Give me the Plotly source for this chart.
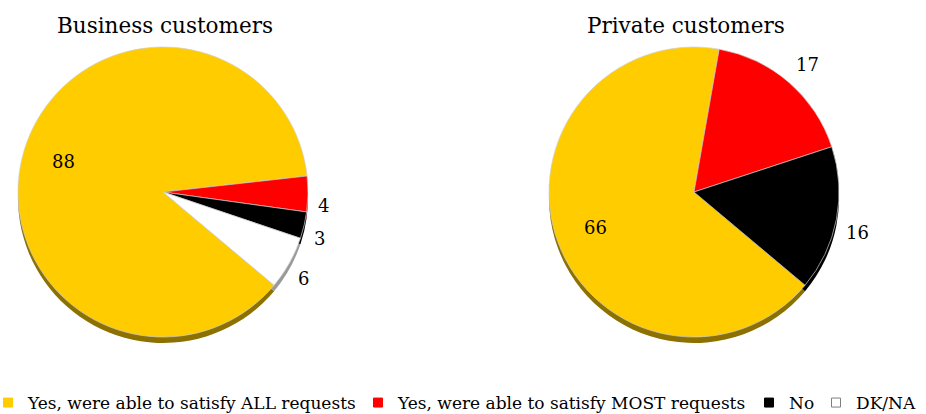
import math
import plotly.graph_objects as go

W, H = 926, 414

labels = ["Yes, were able to satisfy ALL requests",
          "Yes, were able to satisfy MOST requests",
          "No", "DK/NA"]
colors = ["#FFCC00", "#FF0000", "#000000", "#FFFFFF"]
shadow_colors = ["#8C7000", "#8B0000", "#000000", "#9A9A9A"]
legend_line_colors = ["#FFCC00", "#FF0000", "#000000", "#7F7F7F"]

business_values = [88, 4, 3, 6]
business_textpos = ["inside", "outside", "outside", "outside"]
private_values = [66, 17, 16]
private_textpos = ["inside", "outside", "outside"]

titles = ["Business customers", "Private customers"]

FONT = "DejaVu Serif"

# layout of the two pies (pixels)
pies = [
    dict(values=business_values, pos=business_textpos, title=titles[0],
         cx=163, cy=192, r=145, rot=130, title_x=165),
    dict(values=private_values, pos=private_textpos, title=titles[1],
         cx=694, cy=192, r=145, rot=130, title_x=686),
]
SHADOW = 6


def dom(cx, cy, r, dy=0):
    return dict(x=[(cx - r) / W, (cx + r) / W],
                y=[1 - (cy + dy + r) / H, 1 - (cy + dy - r) / H])


fig = go.Figure()

# 3-D base (shadow) of the pies
for p in pies:
    n = len(p["values"])
    fig.add_trace(go.Pie(
        labels=labels[:n], values=p["values"], sort=False,
        direction="clockwise", rotation=p["rot"],
        domain=dom(p["cx"], p["cy"], p["r"], dy=SHADOW),
        marker=dict(colors=shadow_colors[:n], line=dict(width=0)),
        textinfo="none", showlegend=False, hoverinfo="skip"))

# pies
for p in pies:
    n = len(p["values"])
    fig.add_trace(go.Pie(
        labels=labels[:n], values=p["values"], sort=False,
        direction="clockwise", rotation=p["rot"],
        domain=dom(p["cx"], p["cy"], p["r"]),
        marker=dict(colors=colors[:n], line=dict(color="#D0D0D0", width=0.7)),
        textinfo="none", showlegend=False))

    # data labels, placed along each slice's bisector
    total = sum(p["values"])
    start = p["rot"]
    for v, pos in zip(p["values"], p["pos"]):
        span = v / total * 360
        mid = math.radians(start + span / 2)
        start += span
        s, c = math.sin(mid), -math.cos(mid)
        if pos == "inside":
            rr = 0.72 * p["r"]
            xa, ya = "center", "middle"
        else:
            rr = p["r"] + 9
            xa = "left" if s >= 0 else "right"
            ya = "top" if c >= 0 else "bottom"
        fig.add_annotation(
            text=str(v), x=(p["cx"] + rr * s) / W, y=1 - (p["cy"] + rr * c) / H,
            xref="paper", yref="paper", xanchor=xa, yanchor=ya, showarrow=False,
            font=dict(family=FONT, size=18, color="#000"), borderpad=0)

    fig.add_annotation(text=p["title"], x=p["title_x"] / W, y=1 - 25 / H,
                       xref="paper", yref="paper", xanchor="center", yanchor="middle",
                       showarrow=False, font=dict(family=FONT, size=21.5, color="#000"))

# legend entries (one legend per entry to reproduce the original spacing)
legend_text_x = [28, 398, 789, 856]
for i, lab in enumerate(labels):
    name = "legend" if i == 0 else f"legend{i + 1}"
    fig.add_trace(go.Scatter(
        x=[None], y=[None], mode="markers", name=lab, legend=name,
        marker=dict(symbol="square", size=9, color=colors[i],
                    line=dict(color=legend_line_colors[i], width=1)),
        hoverinfo="skip"))

legend_common = dict(orientation="h", xanchor="left", yanchor="middle",
                     y=1 - 403 / H, bgcolor="rgba(0,0,0,0)", itemwidth=30,
                     font=dict(family=FONT, size=17, color="#000"))
layout_legends = {}
for i in range(len(labels)):
    name = "legend" if i == 0 else f"legend{i + 1}"
    layout_legends[name] = dict(legend_common, x=(legend_text_x[i] - 40) / W)

fig.update_layout(
    width=W, height=H,
    margin=dict(l=0, r=0, t=0, b=0, autoexpand=False),
    paper_bgcolor="white", plot_bgcolor="white",
    xaxis=dict(visible=False), yaxis=dict(visible=False),
    showlegend=True,
    **layout_legends,
)

fig.write_html("out.html")
